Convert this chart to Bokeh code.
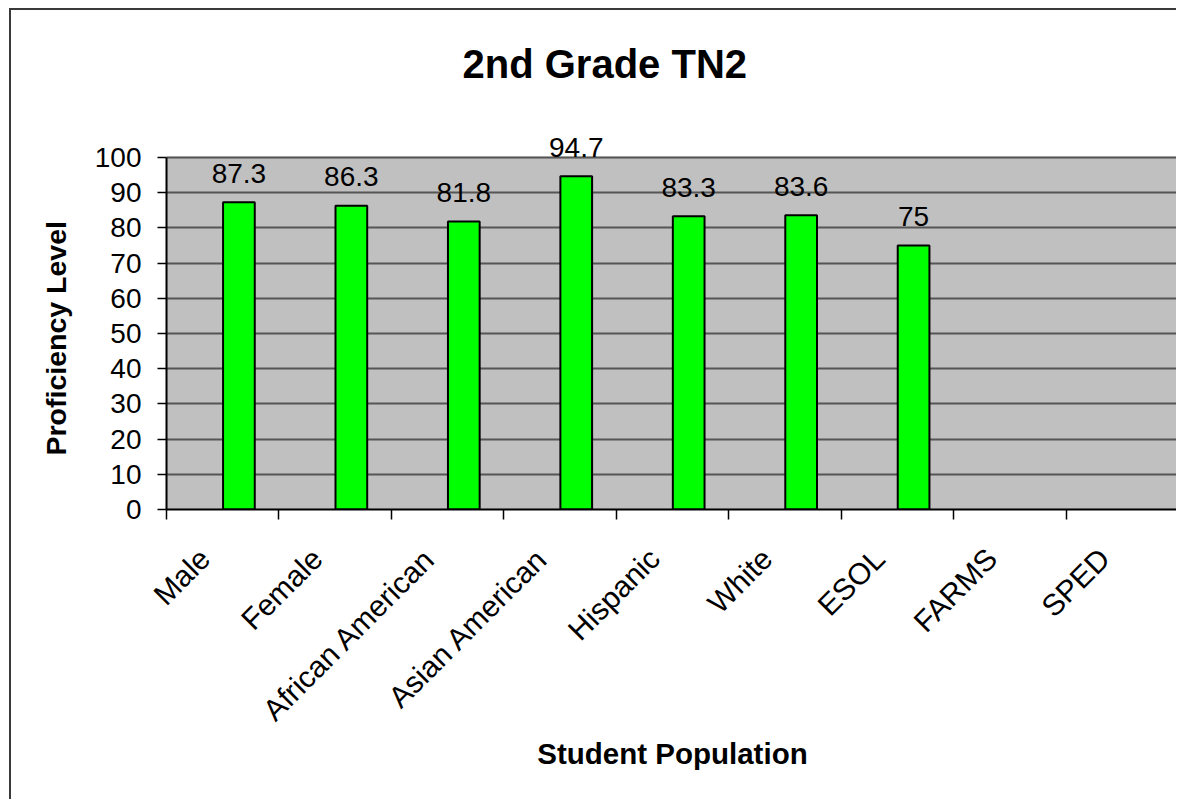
from bokeh.plotting import figure
from bokeh.models import Range1d, FixedTicker, BoxAnnotation, ColumnDataSource, Title
from bokeh.embed import file_html
from bokeh.resources import INLINE
from bokeh.core.properties import value
import math

# ---- data ----
categories = ["Male", "Female", "African American", "Asian American",
              "Hispanic", "White", "ESOL", "FARMS", "SPED"]
proficiency = [87.3, 86.3, 81.8, 94.7, 83.3, 83.6, 75]   # FARMS and SPED have no value
y_ticks = [0, 10, 20, 30, 40, 50, 60, 70, 80, 90, 100]
title_text = "2nd Grade TN2"
x_title = "Student Population"
y_title = "Proficiency Level"

FONT = "Liberation Sans"

# layout (pixels)
W, H = 1167, 791
LEFT, TOP, BOTTOM = 155, 106, 292
frame_h = H - TOP - BOTTOM           # 393
plot_h = 352                         # height of the 0..100 area
y_max = y_ticks[-1]
y_end = y_max * frame_h / plot_h     # frame extends above 100 so labels/title fit

p = figure(width=W, height=H, output_backend="svg", toolbar_location=None,
           x_range=Range1d(0, len(categories)), y_range=Range1d(0, y_end),
           min_border_left=LEFT, min_border_right=0, min_border_top=TOP,
           min_border_bottom=BOTTOM)
p.styles = {"border-left": "2px solid #3a3a3a", "border-top": "2px solid #3a3a3a",
            "margin-left": "9px", "margin-top": "8px"}

p.background_fill_color = "white"
p.border_fill_color = "white"
p.outline_line_color = None

# grey plot area 0..100
p.add_layout(BoxAnnotation(bottom=0, top=y_max, fill_color="#C0C0C0", fill_alpha=1.0,
                           line_color="#808080", line_width=2, level="image"))

# bars
bar_x = [i + 0.644 for i in range(len(proficiency))]
src = ColumnDataSource(dict(x=bar_x, top=proficiency,
                            lab=[f"{v:g}" for v in proficiency]))
p.vbar(x="x", top="top", bottom=0, width=0.282, source=src,
       fill_color="#00FF00", line_color="black", line_width=2)
p.text(x="x", y="top", text="lab", source=src, y_offset=-29,
       text_align="center", text_baseline="alphabetic",
       text_font=value(FONT), text_font_size="28px", text_color="black")

# grid
p.xgrid.visible = False
p.ygrid.grid_line_color = "#555555"
p.ygrid.grid_line_width = 2
p.ygrid.ticker = FixedTicker(ticks=y_ticks)

# y axis
ya = p.yaxis[0]
ya.ticker = FixedTicker(ticks=y_ticks)
ya.bounds = (0, y_max)
ya.axis_line_color = "black"
ya.axis_line_width = 2
ya.major_tick_in = 0
ya.major_tick_out = 9
ya.major_tick_line_color = "black"
ya.major_tick_line_width = 1.5
ya.minor_tick_line_color = None
ya.major_label_standoff = 16
ya.major_label_text_font = FONT
ya.major_label_text_font_size = "28px"
ya.major_label_text_color = "black"

# y axis title, centred on the 0..100 area (not on the taller frame)
p.add_layout(Title(text=y_title, align="left", offset=54, vertical_align="bottom",
                   standoff=40, text_font=FONT, text_font_size="28.5px",
                   text_font_style="bold", text_color="black"), "left")

# x axis: labels near category centres, tick marks at category boundaries
xa = p.xaxis[0]
label_pos = [i + 0.34 for i in range(len(categories))]
bounds = [float(i) for i in range(len(categories) + 1)]
xa.ticker = FixedTicker(ticks=label_pos, minor_ticks=bounds)
xa.major_label_overrides = {c: name for c, name in zip(label_pos, categories)}
xa.major_tick_in = 0
xa.major_tick_out = 0
xa.minor_tick_in = 0
xa.minor_tick_out = 10
xa.minor_tick_line_color = "black"
xa.minor_tick_line_width = 1.5
xa.axis_line_color = "black"
xa.axis_line_width = 2
xa.major_label_orientation = math.pi / 4
xa.major_label_standoff = 34
xa.major_label_text_font = FONT
xa.major_label_text_font_size = "30px"
xa.major_label_text_color = "black"
xa.axis_label = x_title
xa.axis_label_text_font = FONT
xa.axis_label_text_font_size = "29.5px"
xa.axis_label_text_font_style = "bold"
xa.axis_label_text_color = "black"
xa.axis_label_standoff = -4

# chart title
p.title.text = title_text
p.title.align = "left"
p.title.offset = 296
p.title.vertical_align = "top"
p.title.standoff = 58
p.title.text_font = FONT
p.title.text_font_size = "40px"
p.title.text_font_style = "bold"
p.title.text_color = "black"

open("out.html", "w").write(file_html(p, INLINE))
